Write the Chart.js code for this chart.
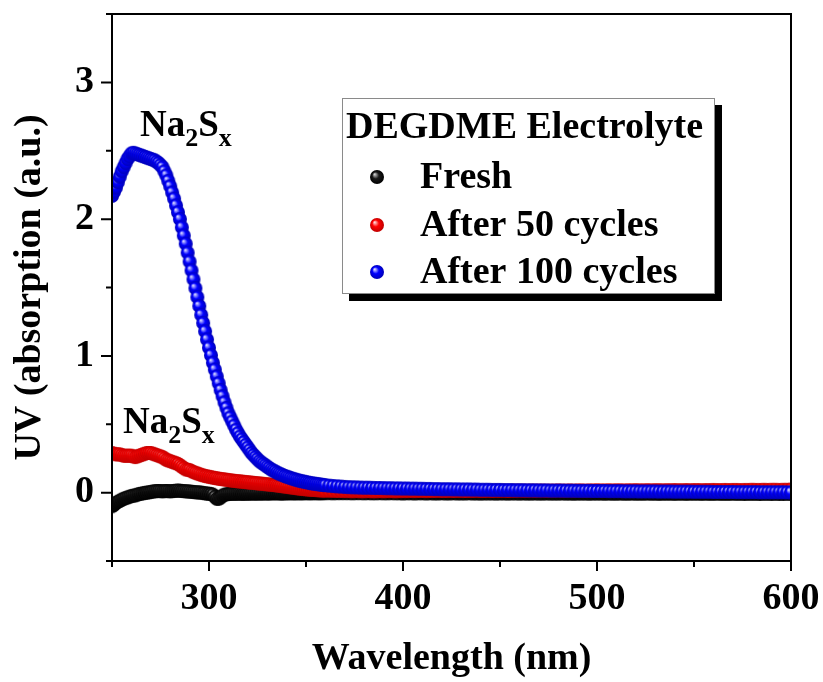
<!DOCTYPE html>
<html><head><meta charset="utf-8">
<script src="https://cdn.jsdelivr.net/npm/chart.js@4.4.0/dist/chart.umd.min.js"></script>
<style>html,body{margin:0;padding:0;background:#fff;}#wrap{width:823px;height:682px;}</style>
</head><body><div id="wrap"><canvas id="c" width="823" height="682"></canvas></div>
<script>
// ---- data ----
// wavelength grid: 1 nm steps 250-360, then 2 nm steps 362-600
const fineStart = 250, fineEnd = 360, fineStep = 1;
const coarseStart = 362, coarseEnd = 600, coarseStep = 2;
const wavelengths = [];
for (let w = fineStart; w <= fineEnd; w += fineStep) wavelengths.push(w);
for (let w = coarseStart; w <= coarseEnd; w += coarseStep) wavelengths.push(w);

const seriesNames = ['Fresh', 'After 50 cycles', 'After 100 cycles'];
const legendTitle = 'DEGDME Electrolyte';
const xTitle = 'Wavelength (nm)';
const yTitle = 'UV (absorption (a.u.)';
const xMajorTicks = [300, 400, 500, 600];
const yMajorTicks = [0, 1, 2, 3];

const freshValues = [
 // 250-360, 1 nm
 -0.10,-0.09,-0.075,-0.067,-0.06, -0.052,-0.045,-0.04,-0.035,-0.03,
 -0.025,-0.022,-0.02,-0.015,-0.01, -0.008,-0.005,-0.002,0.0,0.002,
 0.005,0.008,0.01,0.011,0.012, 0.011,0.01,0.011,0.012,0.011,
 0.01,0.011,0.012,0.014,0.015, 0.014,0.012,0.011,0.01,0.009,
 0.008,0.006,0.005,0.003,0.002, 0.001,0.0,-0.003,-0.005,-0.007,
 -0.008,-0.01,-0.015,-0.03,-0.045, -0.045,-0.035,-0.022,-0.015,-0.012,
 -0.01,-0.009,-0.008,-0.008,-0.008, -0.007,-0.007,-0.008,-0.008,-0.007,
 -0.007,-0.007,-0.006,-0.006,-0.007, -0.006,-0.006,-0.006,-0.006,-0.005,
 -0.006,-0.006,-0.005,-0.005,-0.005, -0.005,-0.005,-0.006,-0.006,-0.005,
 -0.005,-0.005,-0.004,-0.005,-0.005, -0.005,-0.004,-0.005,-0.005,-0.004,
 -0.004,-0.004,-0.005,-0.004,-0.004, -0.004,-0.004,-0.005,-0.004,-0.004,
 -0.004,
 // 362-600, 2 nm
 -0.004,-0.005,-0.004,-0.004,-0.004,
 -0.004,-0.005,-0.004,-0.004,-0.005, -0.004,-0.005,-0.005,-0.004,-0.005, -0.005,-0.004,-0.005,-0.005,-0.006,
 -0.005,-0.005,-0.006,-0.005,-0.005, -0.006,-0.005,-0.006,-0.006,-0.005, -0.006,-0.006,-0.005,-0.006,-0.006, -0.006,-0.005,-0.006,-0.006,-0.007, -0.006,-0.006,-0.006,-0.007,-0.006,
 -0.006,-0.007,-0.006,-0.006,-0.007, -0.006,-0.007,-0.007,-0.006,-0.007, -0.007,-0.006,-0.007,-0.007,-0.007, -0.006,-0.007,-0.007,-0.008,-0.007, -0.007,-0.007,-0.008,-0.007,-0.007,
 -0.007,-0.008,-0.007,-0.008,-0.008, -0.007,-0.008,-0.008,-0.007,-0.008, -0.008,-0.008,-0.007,-0.008,-0.008, -0.009,-0.008,-0.008,-0.008,-0.009, -0.008,-0.008,-0.009,-0.008,-0.008,
 -0.008,-0.009,-0.008,-0.009,-0.009, -0.008,-0.009,-0.009,-0.009,-0.008, -0.009,-0.009,-0.010,-0.009,-0.009, -0.009,-0.010,-0.009,-0.009,-0.010, -0.009,-0.010,-0.010,-0.009,-0.010
];

const cycles50Values = [
 // 250-360, 1 nm
 0.29,0.285,0.28,0.28,0.28, 0.275,0.27,0.27,0.27,0.27,
 0.27,0.265,0.26,0.265,0.27, 0.275,0.28,0.285,0.29,0.29,
 0.29,0.285,0.28,0.275,0.27, 0.265,0.26,0.25,0.24,0.235,
 0.23,0.225,0.22,0.215,0.21, 0.20,0.19,0.18,0.17,0.167,
 0.165,0.157,0.15,0.145,0.14, 0.135,0.13,0.126,0.122,0.119,
 0.116,0.113,0.11,0.107,0.105, 0.102,0.10,0.098,0.096,0.094,
 0.092,0.09,0.088,0.086,0.085, 0.083,0.082,0.08,0.079,0.077,
 0.076,0.074,0.073,0.071,0.07, 0.068,0.067,0.065,0.064,0.062,
 0.061,0.059,0.058,0.056,0.055, 0.053,0.051,0.049,0.047,0.045,
 0.043,0.041,0.039,0.037,0.035, 0.033,0.031,0.029,0.028,0.026,
 0.025,0.023,0.022,0.021,0.020, 0.019,0.018,0.017,0.016,0.016,
 0.015,
 // 362-600, 2 nm
 0.014,0.013,0.012,0.012,0.011,
 0.011,0.010,0.011,0.010,0.010, 0.011,0.010,0.010,0.011,0.010, 0.011,0.011,0.010,0.011,0.011,
 0.011,0.012,0.011,0.012,0.012, 0.011,0.012,0.012,0.013,0.012, 0.012,0.013,0.012,0.013,0.013, 0.012,0.013,0.013,0.014,0.013, 0.013,0.014,0.013,0.014,0.014,
 0.014,0.013,0.014,0.014,0.015, 0.014,0.014,0.015,0.014,0.015, 0.015,0.014,0.015,0.015,0.016, 0.015,0.015,0.016,0.015,0.016, 0.016,0.015,0.016,0.016,0.017,
 0.016,0.016,0.017,0.016,0.017, 0.017,0.016,0.017,0.017,0.018, 0.017,0.017,0.018,0.017,0.018, 0.018,0.017,0.018,0.018,0.019, 0.018,0.018,0.019,0.018,0.019,
 0.019,0.018,0.019,0.019,0.020, 0.019,0.019,0.020,0.019,0.020, 0.020,0.019,0.020,0.020,0.021, 0.020,0.020,0.021,0.020,0.021, 0.021,0.020,0.021,0.021,0.022
];

const cycles100Values = [
 // 250-360, 1 nm
 2.17,2.20,2.23,2.27,2.31, 2.35,2.38,2.41,2.44,2.46,
 2.48,2.485,2.48,2.475,2.47, 2.465,2.46,2.455,2.45,2.445,
 2.44,2.435,2.43,2.42,2.41, 2.395,2.38,2.35,2.32,2.28,
 2.24,2.195,2.15,2.10,2.05, 2.00,1.94,1.88,1.82,1.755,
 1.69,1.625,1.56,1.495,1.43, 1.365,1.30,1.24,1.18,1.12,
 1.06,1.005,0.95,0.90,0.85, 0.80,0.75,0.705,0.66,0.62,
 0.58,0.55,0.52,0.49,0.46, 0.435,0.41,0.39,0.37,0.35,
 0.33,0.31,0.29,0.275,0.26, 0.245,0.23,0.22,0.21,0.20,
 0.19,0.18,0.17,0.162,0.155, 0.147,0.14,0.134,0.128,0.122,
 0.117,0.112,0.107,0.102,0.098, 0.094,0.09,0.086,0.083,0.08,
 0.077,0.074,0.071,0.068,0.066, 0.064,0.062,0.06,0.058,0.056,
 0.054,
 // 362-600, 2 nm
 0.051,0.048,0.046,0.044,0.042,
 0.040,0.039,0.038,0.037,0.036, 0.036,0.035,0.034,0.034,0.033, 0.032,0.032,0.031,0.031,0.030,
 0.030,0.029,0.029,0.028,0.028, 0.027,0.027,0.026,0.026,0.025, 0.025,0.025,0.024,0.024,0.023, 0.023,0.023,0.022,0.022,0.021, 0.021,0.021,0.020,0.020,0.020,
 0.019,0.019,0.019,0.018,0.018, 0.018,0.017,0.017,0.017,0.016, 0.016,0.016,0.015,0.015,0.015, 0.015,0.014,0.014,0.014,0.013, 0.013,0.013,0.013,0.012,0.012,
 0.012,0.012,0.011,0.011,0.011, 0.011,0.010,0.010,0.010,0.010, 0.009,0.009,0.009,0.009,0.009, 0.008,0.008,0.008,0.008,0.007, 0.007,0.007,0.007,0.007,0.006,
 0.006,0.006,0.006,0.006,0.005, 0.005,0.005,0.005,0.005,0.005, 0.004,0.004,0.004,0.004,0.004, 0.004,0.003,0.003,0.003,0.003, 0.003,0.003,0.003,0.002,0.002
];

// annotation anchors (data coordinates)
const annotations = [
  {x: 264.4, y: 2.61},
  {x: 255.7, y: 0.434}
];

// ---- styling ----
const FONT = "'Liberation Serif', 'Times New Roman', Times, serif";
const colors = [
  {base: '#1a1a1a', light: '#d0d0d0', dark: '#000000'},
  {base: '#ff0000', light: '#ffd8d8', dark: '#c00000'},
  {base: '#0000ff', light: '#dcdcff', dark: '#0000b8'}
];

function makeBall(c, r) {
  const cv = document.createElement('canvas');
  const s = Math.ceil(2 * r + 2);
  cv.width = cv.height = s;
  const g = cv.getContext('2d');
  const cx = s / 2, cy = s / 2;
  const grd = g.createRadialGradient(cx - r * 0.35, cy - r * 0.4, r * 0.05, cx, cy, r);
  grd.addColorStop(0, c.light);
  grd.addColorStop(0.45, c.base);
  grd.addColorStop(1, c.dark);
  g.fillStyle = grd;
  g.beginPath(); g.arc(cx, cy, r, 0, Math.PI * 2); g.fill();
  return cv;
}
const balls = colors.map(c => makeBall(c, 7));

function toXY(vals) { return vals.map((v, i) => ({x: wavelengths[i], y: v})); }
const seriesValues = [freshValues, cycles50Values, cycles100Values];

const datasets = seriesValues.map((vals, i) => ({
  label: seriesNames[i],
  data: toXY(vals),
  showLine: false,
  pointStyle: balls[i],
  pointRadius: 7,
  pointHoverRadius: 7,
  order: 3 - i,
  clip: 0
}));

function drawNa2Sx(ctx, x, baseline) {
  ctx.fillStyle = '#000';
  ctx.textBaseline = 'alphabetic';
  ctx.textAlign = 'left';
  const big = 'bold 37px ' + FONT, small = 'bold 26px ' + FONT;
  ctx.font = big; ctx.fillText('Na', x, baseline); x += ctx.measureText('Na').width;
  ctx.font = small; ctx.fillText('2', x, baseline + 10); x += ctx.measureText('2').width;
  ctx.font = big; ctx.fillText('S', x, baseline); x += ctx.measureText('S').width;
  ctx.font = small; ctx.fillText('x', x, baseline + 10);
}

const decor = {
  id: 'decor',
  afterDraw(chart) {
    const {ctx, chartArea: a, scales: {x, y}} = chart;
    ctx.save();
    // frame
    ctx.strokeStyle = '#000'; ctx.lineWidth = 2;
    ctx.strokeRect(a.left, a.top, a.right - a.left, a.bottom - a.top);
    // ticks (outward)
    ctx.beginPath();
    x.ticks.forEach(t => {
      const px = x.getPixelForValue(t.value);
      const len = xMajorTicks.includes(t.value) ? 10 : 6;
      ctx.moveTo(px, a.bottom); ctx.lineTo(px, a.bottom + len);
    });
    y.ticks.forEach(t => {
      const py = y.getPixelForValue(t.value);
      const len = yMajorTicks.includes(t.value) ? 11 : 6;
      ctx.moveTo(a.left, py); ctx.lineTo(a.left - len, py);
    });
    ctx.stroke();

    // annotations
    annotations.forEach(an => drawNa2Sx(ctx, x.getPixelForValue(an.x), y.getPixelForValue(an.y)));

    // legend
    const L = 342, T = 98, W = 373, H = 196;
    ctx.fillStyle = '#000';
    ctx.fillRect(L + 7, T + 7, W, H);
    ctx.fillStyle = '#fff';
    ctx.fillRect(L, T, W, H);
    ctx.strokeStyle = '#8a8a8a'; ctx.lineWidth = 1;
    ctx.strokeRect(L + 0.5, T + 0.5, W - 1, H - 1);
    ctx.fillStyle = '#000';
    ctx.textAlign = 'left'; ctx.textBaseline = 'alphabetic';
    ctx.font = 'bold 38px ' + FONT;
    ctx.fillText(legendTitle, L + 4, T + 40);
    const rowY = [177, 225, 272];
    seriesNames.forEach((n, i) => {
      const b = balls[i];
      ctx.drawImage(b, 377 - b.width / 2, rowY[i] - b.height / 2);
      ctx.fillStyle = '#000';
      ctx.fillText(n, 420, rowY[i] + 11);
    });
    ctx.restore();
  }
};

function zeroPad(s) { s.paddingLeft = 0; s.paddingRight = 0; s.paddingTop = 0; s.paddingBottom = 0; }

Chart.defaults.font.family = FONT;
Chart.defaults.color = '#000';

new Chart(document.getElementById('c'), {
  type: 'scatter',
  data: {datasets},
  options: {
    responsive: false,
    animation: false,
    devicePixelRatio: 1,
    layout: {padding: {left: 3, right: 32, top: 14, bottom: 0}},
    plugins: {legend: {display: false}, tooltip: {enabled: false}},
    scales: {
      x: {
        type: 'linear', min: 250, max: 600,
        border: {display: false},
        grid: {display: false},
        ticks: {
          stepSize: 50, autoSkip: false, maxRotation: 0, padding: 7,
          font: {size: 38, weight: 'bold', family: FONT}, color: '#000',
          callback: v => xMajorTicks.includes(v) ? String(v) : ''
        },
        title: {display: true, text: xTitle, color: '#000', padding: {top: 0, bottom: 0},
          font: {size: 38, weight: 'bold', family: FONT}},
        afterFit: s => { s.height = 121; zeroPad(s); }
      },
      y: {
        type: 'linear', min: -0.5, max: 3.5,
        border: {display: false},
        grid: {display: false},
        ticks: {
          stepSize: 0.5, autoSkip: false, padding: 10,
          font: {size: 38, weight: 'bold', family: FONT}, color: '#000',
          callback: v => yMajorTicks.includes(v) ? String(v) : ''
        },
        title: {display: true, text: yTitle, color: '#000', padding: {top: 4, bottom: 0},
          font: {size: 38, weight: 'bold', family: FONT}},
        afterFit: s => { s.width = 109; zeroPad(s); }
      }
    }
  },
  plugins: [decor]
});
</script>
</body></html>
